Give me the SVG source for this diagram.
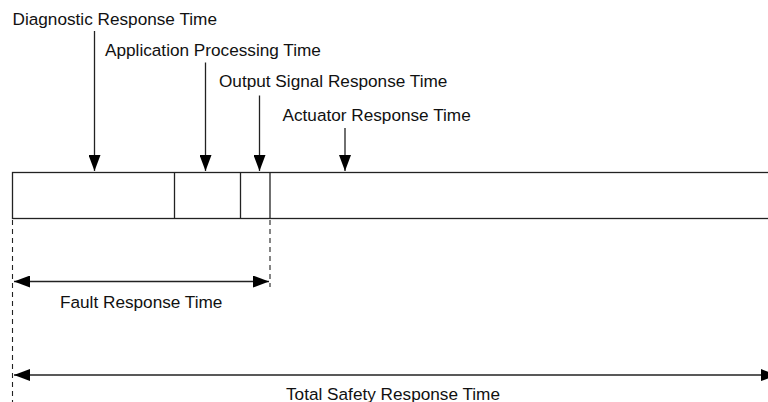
<svg xmlns="http://www.w3.org/2000/svg" width="768" height="402" viewBox="0 0 768 402">
<style>
text{font-family:"Liberation Sans",Arial,Helvetica,sans-serif;font-size:17.2px;fill:#111}
.ln{stroke:#222;stroke-width:1.3;fill:none}
.dash{stroke:#222;stroke-width:1.1;stroke-dasharray:5,4;fill:none}
</style>
<defs>
<marker id="ah" markerUnits="userSpaceOnUse" markerWidth="16" markerHeight="12" refX="16" refY="6" orient="auto-start-reverse" viewBox="0 0 16 12">
<path d="M0,0 L16,6 L0,12 z" fill="#000"/>
</marker>
</defs>
<rect width="768" height="402" fill="#fff"/>
<g id="bar">
<rect x="12.5" y="172.5" width="780" height="46" class="ln"/>
<line x1="174.5" y1="172.5" x2="174.5" y2="218.5" class="ln"/>
<line x1="240.5" y1="172.5" x2="240.5" y2="218.5" class="ln"/>
<line x1="270" y1="172.5" x2="270" y2="218.5" class="ln"/>
</g>
<g id="diagnostic"><text x="12.5" y="25">Diagnostic Response Time</text></g>
<g id="application"><text x="105" y="56">Application Processing Time</text></g>
<g id="output"><text x="219" y="87">Output Signal Response Time</text></g>
<g id="actuator"><text x="282.5" y="121">Actuator Response Time</text></g>
<g id="fault"><text x="60" y="308">Fault Response Time</text></g>
<g id="total"><text x="286" y="399.5">Total Safety Response Time</text></g>
<g id="connectors">
<line x1="94.5" y1="31" x2="94.5" y2="171" class="ln" marker-end="url(#ah)"/>
<line x1="205.5" y1="62.5" x2="205.5" y2="171" class="ln" marker-end="url(#ah)"/>
<line x1="259.5" y1="95.5" x2="259.5" y2="171" class="ln" marker-end="url(#ah)"/>
<line x1="345" y1="128" x2="345" y2="171" class="ln" marker-end="url(#ah)"/>
<line x1="12.5" y1="220" x2="12.5" y2="402" class="dash"/>
<line x1="270" y1="220" x2="270" y2="287" class="dash"/>
<line x1="14" y1="281.5" x2="269" y2="281.5" class="ln" marker-start="url(#ah)" marker-end="url(#ah)"/>
<line x1="14" y1="375" x2="777" y2="375" class="ln" marker-start="url(#ah)" marker-end="url(#ah)"/>
</g>
</svg>
